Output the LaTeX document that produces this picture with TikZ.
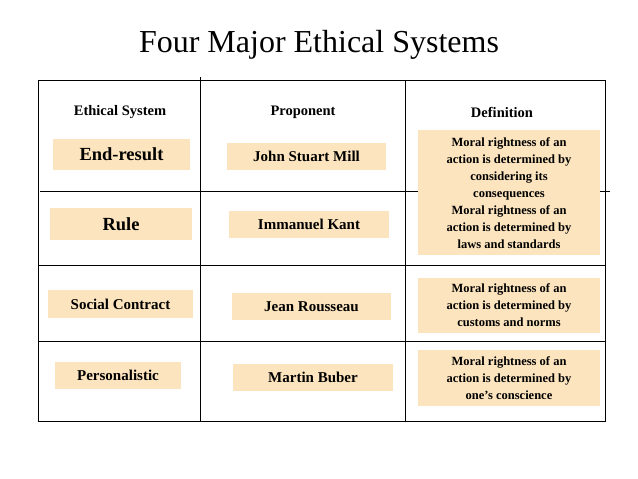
\documentclass[tikz,border=0pt]{standalone}
\usepackage{fontspec}
\setmainfont{Liberation Serif}
\begin{document}
\begin{tikzpicture}[x=1pt,y=-1pt,
 box/.style={fill=boxc,draw=none,font=\bfseries,inner sep=0pt,align=center},
 tl/.style={line width=0.8pt}]
\definecolor{boxc}{HTML}{FCE4BE}
\useasboundingbox (0,0) rectangle (638,479);
\node (title) at (319,45) {\fontsize{32}{36}\selectfont Four Major Ethical Systems};
\coordinate (tl1) at (38,80); \coordinate (tr1) at (605,80);
\coordinate (bl) at (38,421); \coordinate (br) at (605,421);
\draw[tl] (tl1) -- (tr1) -- (br) -- (bl) -- cycle;
\draw[tl] (200,77) -- (200,421);
\draw[tl] (405,80) -- (405,421);
\draw[tl] (40,191) -- (610,191);
\draw[tl] (38,265) -- (605,265);
\draw[tl] (38,341) -- (605,341);
\node[font=\bfseries\fontsize{14.5}{16}\selectfont] (h1) at (120,112) {Ethical System};
\node[font=\bfseries\fontsize{14.5}{16}\selectfont] (h2) at (303,112) {Proponent};
\node[font=\bfseries\fontsize{14.5}{16}\selectfont] (h3) at (502,112) {Definition};
\node[box,minimum width=137,minimum height=31,font=\bfseries\fontsize{18.5}{20}\selectfont] (e1) at (121.5,154.5) {End-result};
\node[box,minimum width=159,minimum height=27,font=\bfseries\fontsize{15}{17}\selectfont] (p1) at (306.5,156.5) {John Stuart Mill};
\node[box,minimum width=142,minimum height=32,font=\bfseries\fontsize{18.5}{20}\selectfont] (e2) at (121,224) {Rule};
\node[box,minimum width=160,minimum height=27,font=\bfseries\fontsize{15}{17}\selectfont] (p2) at (309,224.5) {Immanuel Kant};
\node[box,minimum width=145,minimum height=28,font=\bfseries\fontsize{15}{17}\selectfont] (e3) at (120.5,304) {Social Contract};
\node[box,minimum width=159,minimum height=27,font=\bfseries\fontsize{15}{17}\selectfont] (p3) at (311.5,306.5) {Jean Rousseau};
\node[box,minimum width=126,minimum height=27,font=\bfseries\fontsize{15}{17}\selectfont] (e4) at (118,375.5) {Personalistic};
\node[box,minimum width=160,minimum height=27,font=\bfseries\fontsize{15}{17}\selectfont] (p4) at (313,377.5) {Martin Buber};
\node[box,minimum width=182,minimum height=125,font=\bfseries\fontsize{12.5}{17}\selectfont,anchor=north] (d1) at (509,130) {Moral rightness of an\\action is determined by\\considering its\\consequences\\Moral rightness of an\\action is determined by\\laws and standards};
\node[box,minimum width=182,minimum height=55,font=\bfseries\fontsize{12.5}{17}\selectfont] (d3) at (509,305.5) {Moral rightness of an\\action is determined by\\customs and norms};
\node[box,minimum width=182,minimum height=56,font=\bfseries\fontsize{12.5}{17}\selectfont] (d4) at (509,378) {Moral rightness of an\\action is determined by\\one's conscience};
\end{tikzpicture}
\end{document}
